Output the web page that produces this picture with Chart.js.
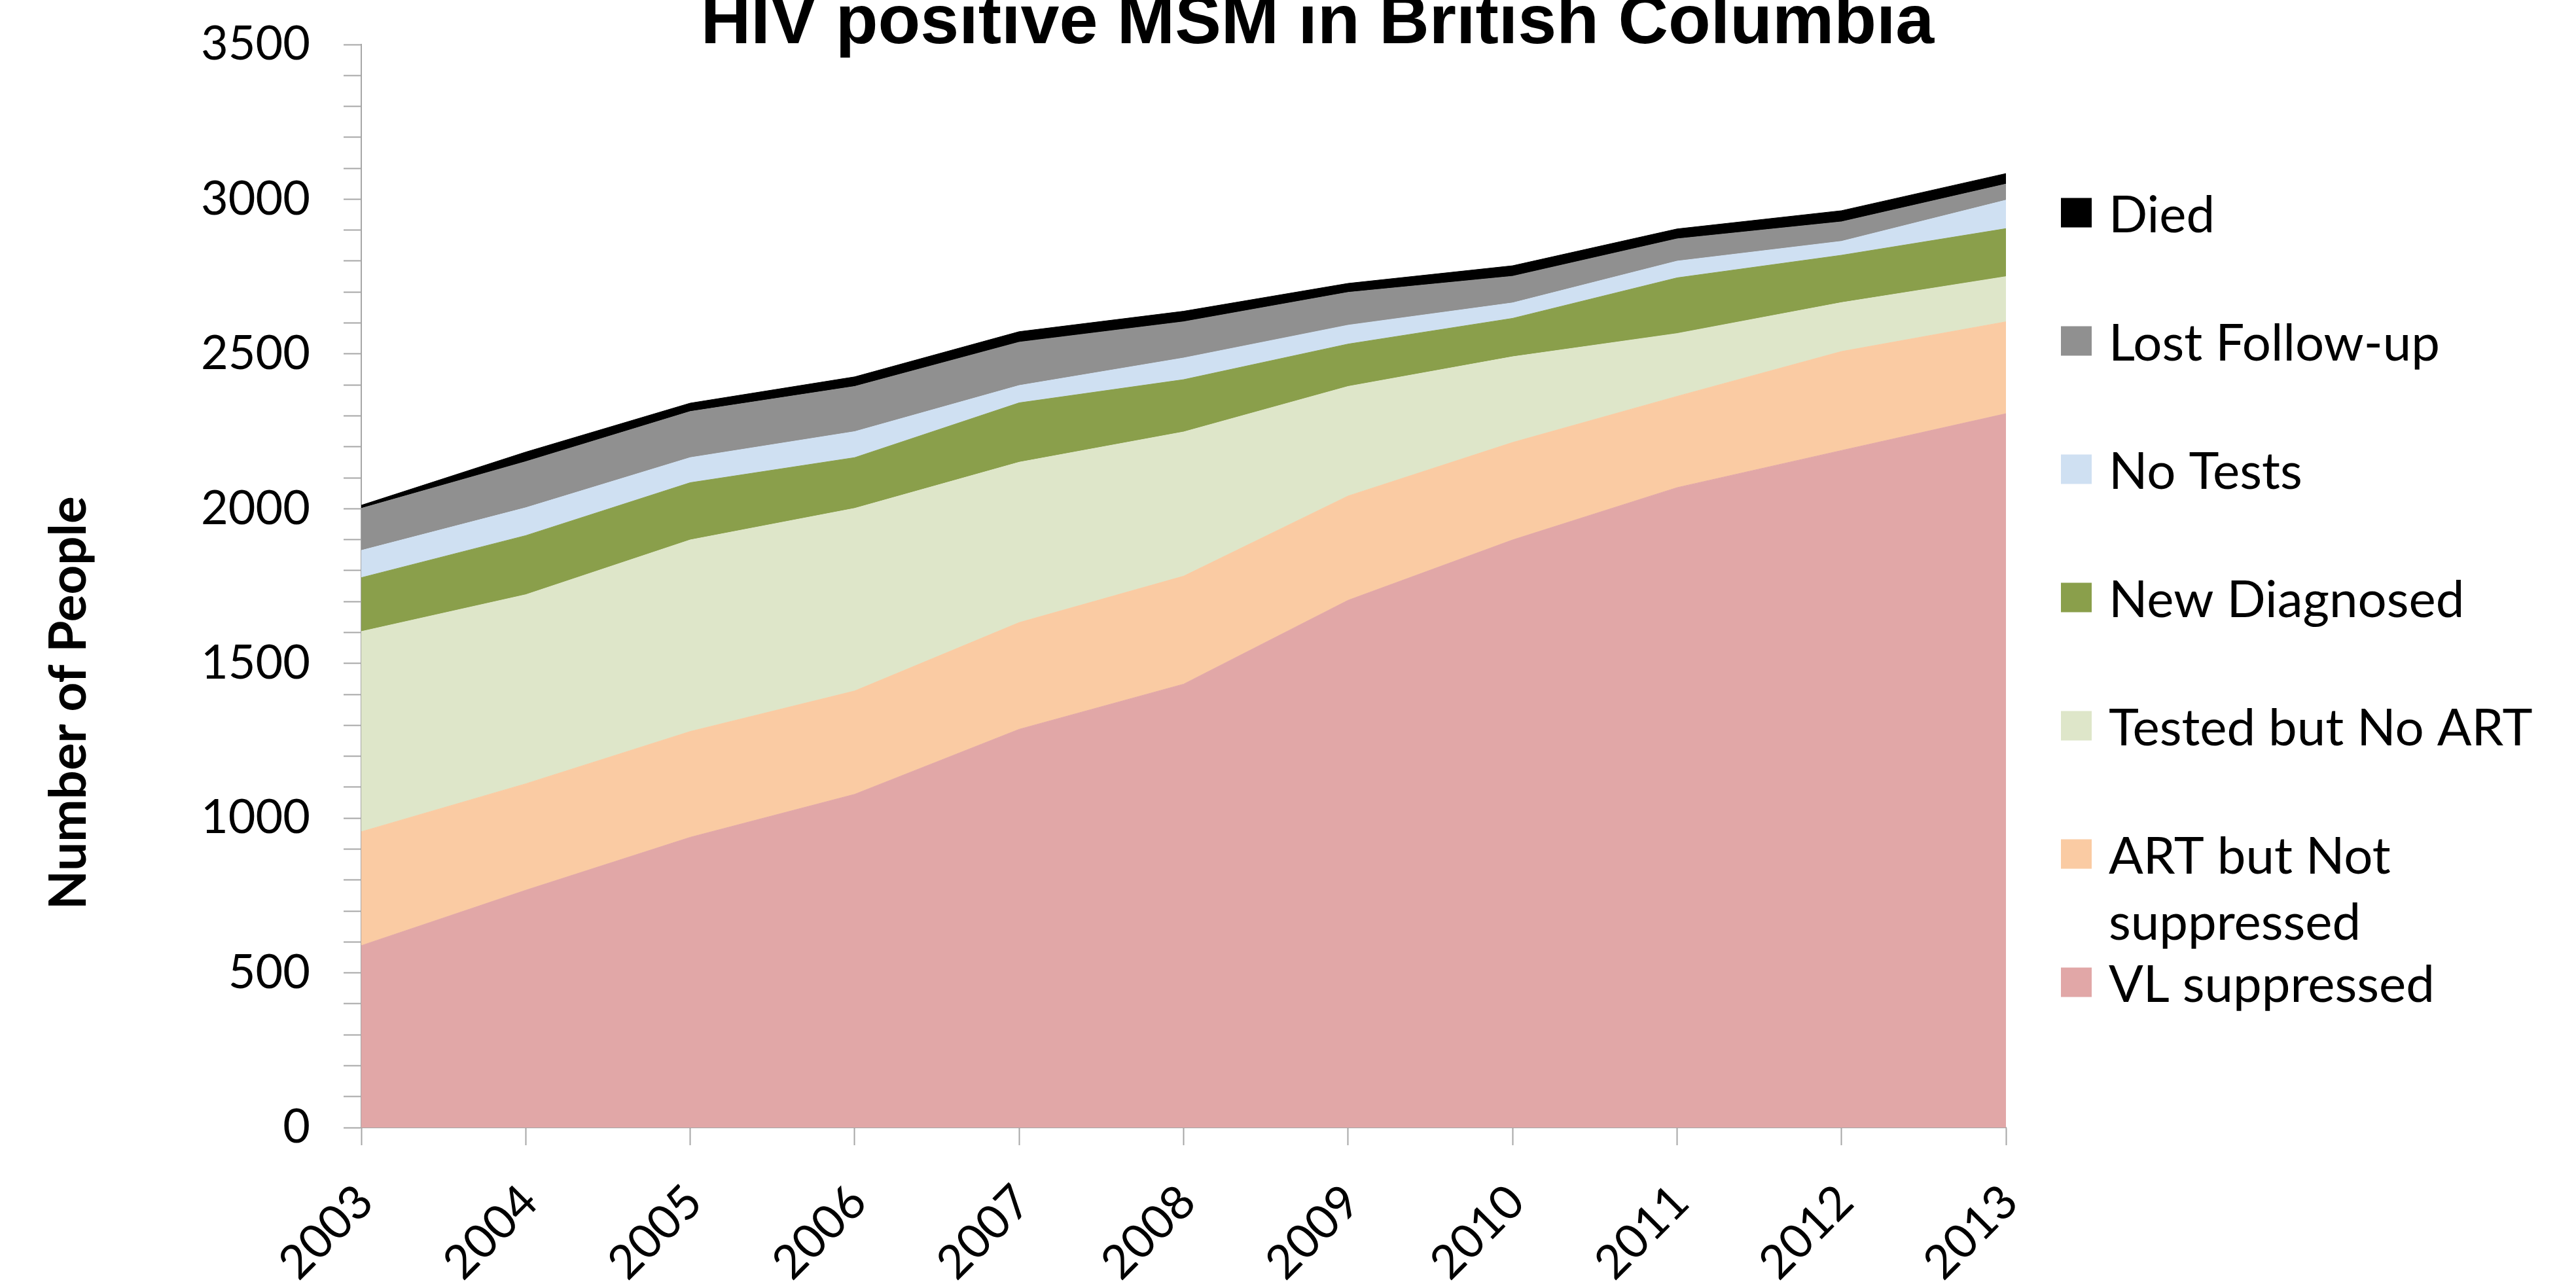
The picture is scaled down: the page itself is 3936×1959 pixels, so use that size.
<!DOCTYPE html>
<html>
<head>
<meta charset="utf-8">
<script src="https://cdn.jsdelivr.net/npm/chart.js@4.4.1/dist/chart.umd.min.js"></script>
<style>
  html, body { margin: 0; padding: 0; background: #ffffff; overflow: hidden; }
  #wrap { position: relative; width: 3936px; height: 1959px; }
  canvas { display: block; }
</style>
</head>
<body>
<div id="wrap"><canvas id="chart" width="3936" height="1959"></canvas></div>
<script>
// ---- data ----
const chartTitle = 'HIV positive MSM in British Columbia';
const yAxisTitle = 'Number of People';
const years = ['2003', '2004', '2005', '2006', '2007', '2008', '2009', '2010', '2011', '2012', '2013'];
const seriesNames = ['VL suppressed', 'ART but Not suppressed', 'Tested but No ART', 'New Diagnosed', 'No Tests', 'Lost Follow-up', 'Died'];
const vlSuppressed     = [588, 767, 938, 1077, 1287, 1433, 1704, 1899, 2068, 2188, 2307];
const artNotSuppressed = [368, 344, 342, 334, 345, 349, 337, 315, 295, 320, 297];
const testedNoArt      = [647, 611, 619, 590, 518, 466, 354, 277, 203, 158, 146];
const newDiagnosed     = [174, 191, 185, 164, 192, 169, 137, 124, 180, 153, 155];
const noTests          = [88, 90, 81, 84, 56, 70, 61, 50, 54, 45, 92];
const lostFollowUp     = [136, 149, 149, 146, 140, 117, 106, 86, 72, 63, 52];
const died             = [10, 31, 27, 31, 34, 34, 29, 34, 32, 36, 34];
const yMin = 0, yMax = 3500, yLabelStep = 500, yMinorStep = 100;

// ---- styles ----
const seriesColors = ['#E1A7A7', '#FACBA3', '#DEE6C9', '#8A9F4B', '#CFE0F2', '#909090', '#000000'];
const seriesValues = [vlSuppressed, artNotSuppressed, testedNoArt, newDiagnosed, noTests, lostFollowUp, died];
const axisGray = '#A6A6A6';
const bodyFont = 'Lato, "Open Sans", sans-serif';

const datasets = seriesValues.map((vals, i) => ({
  label: seriesNames[i],
  data: vals,
  backgroundColor: seriesColors[i],
  borderColor: seriesColors[i],
  borderWidth: 1,
  pointRadius: 0,
  pointHoverRadius: 0,
  tension: 0,
  fill: i === 0 ? 'origin' : '-1'
}));

const overlay = {
  id: 'overlay',
  afterDraw(chart) {
    const ctx = chart.ctx;
    const ca = chart.chartArea;
    ctx.save();
    // chart title
    ctx.fillStyle = '#000';
    ctx.font = 'bold 106px "Liberation Sans", Arial, sans-serif';
    ctx.textAlign = 'center';
    ctx.textBaseline = 'alphabetic';
    ctx.fillText(chartTitle, 2013, 66);

    // y-axis title
    ctx.save();
    ctx.translate(106, ca.top + (ca.bottom - ca.top) * 0.608);
    ctx.rotate(-Math.PI / 2);
    ctx.font = 'bold 78px ' + bodyFont;
    ctx.textAlign = 'center';
    ctx.textBaseline = 'middle';
    ctx.fillText(yAxisTitle, 0, 0);
    ctx.restore();

    // legend (top item = last series)
    const boxX = 3149, boxW = 47, boxH = 45, textX = 3222;
    const firstY = 325, stepY = 196, lineH = 101, maxW = 700;
    ctx.font = '78px ' + bodyFont;
    ctx.textAlign = 'left';
    ctx.textBaseline = 'alphabetic';
    const ds = chart.data.datasets;
    for (let k = 0; k < ds.length; k++) {
      const d = ds[ds.length - 1 - k];
      const cy = firstY + k * stepY;
      ctx.fillStyle = d.backgroundColor;
      ctx.fillRect(boxX, cy - boxH / 2, boxW, boxH);
      const words = d.label.split(' ');
      const lines = [];
      let cur = '';
      for (const w of words) {
        const test = cur ? cur + ' ' + w : w;
        if (cur && ctx.measureText(test).width > maxW) { lines.push(cur); cur = w; }
        else cur = test;
      }
      lines.push(cur);
      ctx.fillStyle = '#000';
      lines.forEach((ln, j) => ctx.fillText(ln, textX, cy + 30 + j * lineH));
    }
    ctx.restore();
  }
};

function draw() {
  new Chart(document.getElementById('chart'), {
    type: 'line',
    data: { labels: years, datasets },
    plugins: [overlay],
    options: {
      responsive: false,
      animation: false,
      devicePixelRatio: 1,
      layout: { padding: { left: 0, right: 871, top: 68, bottom: 0 } },
      plugins: {
        legend: { display: false },
        title: { display: false },
        tooltip: { enabled: false },
        filler: { propagate: false }
      },
      scales: {
        x: {
          offset: false,
          ticks: {
            minRotation: 45, maxRotation: 45, autoSkip: false, padding: 44, labelOffset: 6,
            color: '#000', font: { family: bodyFont, size: 72 }
          },
          grid: { offset: false, drawOnChartArea: false, drawTicks: true, tickLength: 27, tickColor: axisGray, tickWidth: 2 },
          border: { display: true, color: axisGray, width: 2 },
          afterFit: s => { s.height = 236; }
        },
        y: {
          stacked: true,
          min: yMin, max: yMax,
          ticks: {
            stepSize: yMinorStep, maxTicksLimit: 100, autoSkip: false, padding: 51,
            color: '#000', font: { family: bodyFont, size: 72, lineHeight: 0.4 },
            callback: v => (v % yLabelStep === 0 ? String(v) : '')
          },
          grid: { drawOnChartArea: false, drawTicks: true, tickLength: 27, tickColor: axisGray, tickWidth: 2 },
          border: { display: true, color: axisGray, width: 2 },
          afterFit: s => { s.width = 552; }
        }
      }
    }
  });
}
if (document.fonts && document.fonts.load) {
  Promise.all([
    document.fonts.load('72px Lato'),
    document.fonts.load('bold 78px Lato'),
    document.fonts.load('bold 106px "Liberation Sans"')
  ]).then(draw, draw);
} else { draw(); }
</script>
</body>
</html>
